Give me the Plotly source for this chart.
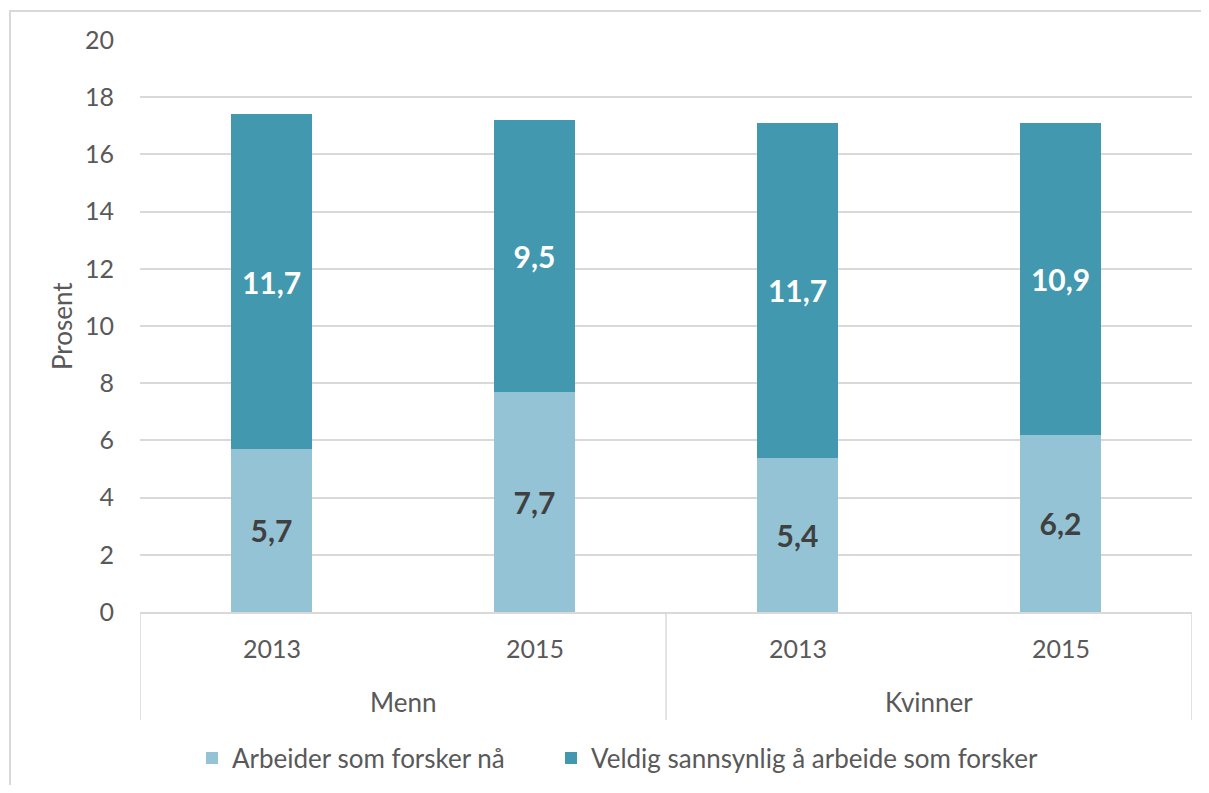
import plotly.graph_objects as go

groups = ["Menn", "Menn", "Kvinner", "Kvinner"]
years = ["2013", "2015", "2013", "2015"]
arbeider = [5.7, 7.7, 5.4, 6.2]
sannsynlig = [11.7, 9.5, 11.7, 10.9]
series_names = ["Arbeider som forsker nå", "Veldig sannsynlig å arbeide som forsker"]
y_ticks = [0, 2, 4, 6, 8, 10, 12, 14, 16, 18, 20]

FONT = "Lato, Open Sans, sans-serif"
GRID = "#D9D9D9"
TXT = "#595959"

# page body has an 8px margin -> figure sized to fit the window without scrollbars
W, H = 1193, 777
ML, MR, MT, MB = 132, 9, 32, 173
PW, PH = W - ML - MR, H - MT - MB

x_cat = [f"{g} {y}" for g, y in zip(groups, years)]

def fmt(v):
    return f"{v:.1f}".replace(".", ",")

fig = go.Figure()
fig.add_trace(go.Bar(
    x=x_cat, y=arbeider, name=series_names[0], legend="legend",
    marker=dict(color="#93C3D5", line=dict(width=0)),
    text=[fmt(v) for v in arbeider], textposition="inside",
    insidetextanchor="middle", textangle=0,
    textfont=dict(family=FONT, size=30, color="#404040", weight="bold"),
))
fig.add_trace(go.Bar(
    x=x_cat, y=sannsynlig, name=series_names[1], legend="legend2",
    marker=dict(color="#4298AF", line=dict(width=0)),
    text=[fmt(v) for v in sannsynlig], textposition="inside",
    insidetextanchor="middle", textangle=0,
    textfont=dict(family=FONT, size=30, color="#FFFFFF", weight="bold"),
))

annotations = []
# year labels
for xc, yr in zip(x_cat, years):
    annotations.append(dict(x=xc, xref="x", y=-36 / PH, yref="paper", text=yr,
                            showarrow=False, yanchor="middle",
                            font=dict(family=FONT, size=25, color=TXT)))
# group labels (centred between each pair of categories)
uniq_groups = list(dict.fromkeys(groups))
for i, g in enumerate(uniq_groups):
    idx = [j for j, gg in enumerate(groups) if gg == g]
    annotations.append(dict(x=sum(idx) / len(idx), xref="x", y=-90 / PH, yref="paper",
                            text=g, showarrow=False, yanchor="middle",
                            font=dict(family=FONT, size=26, color=TXT)))
# y-axis title
annotations.append(dict(x=-78 / PW, xref="paper", y=0.5, yref="paper", text="Prosent",
                        textangle=-90, showarrow=False, xanchor="center", yanchor="middle",
                        font=dict(family=FONT, size=26, color=TXT)))

shapes = []
# dividers of the category axis
div_positions = [-0.5, 1.5, 3.5]
for xp in div_positions:
    shapes.append(dict(type="line", xref="x", yref="paper", x0=xp, x1=xp,
                       y0=0, y1=-108 / PH, line=dict(color=GRID, width=1.5)))
# outer chart border (right and bottom edges fall outside the picture)
shapes.append(dict(type="rect", xref="paper", yref="paper",
                   x0=(2 - ML) / PW, x1=(1215 - ML) / PW,
                   y0=(MT + PH - 800) / PH, y1=(MT + PH - 3) / PH,
                   line=dict(color=GRID, width=2), fillcolor="rgba(0,0,0,0)", layer="below"))

legend_common = dict(orientation="h", xanchor="left", y=-146 / PH, yanchor="middle",
                     font=dict(size=26, color=TXT), bgcolor="rgba(0,0,0,0)")

fig.update_layout(
    barmode="stack",
    bargap=0.69,
    width=W, height=H,
    margin=dict(l=ML, r=MR, t=MT, b=MB, autoexpand=False),
    paper_bgcolor="white", plot_bgcolor="white",
    font=dict(family=FONT, size=25, color=TXT),
    showlegend=True,
    legend=dict(x=(184 - ML) / PW, **legend_common),
    legend2=dict(x=(543 - ML) / PW, **legend_common),
    annotations=annotations,
    shapes=shapes,
)
fig.update_xaxes(
    type="category", categoryorder="array", categoryarray=x_cat,
    range=[-0.5, 3.5],
    showline=True, linecolor=GRID, linewidth=1.5,
    showticklabels=False, ticks="", showgrid=False,
)
fig.update_yaxes(
    range=[0, 20], tickvals=y_ticks, showgrid=True, gridcolor=GRID, gridwidth=1.5,
    zeroline=False, showline=False, ticks="",
    tickfont=dict(size=25, color=TXT), ticklabelstandoff=25,
)

fig.write_html("out.html")
